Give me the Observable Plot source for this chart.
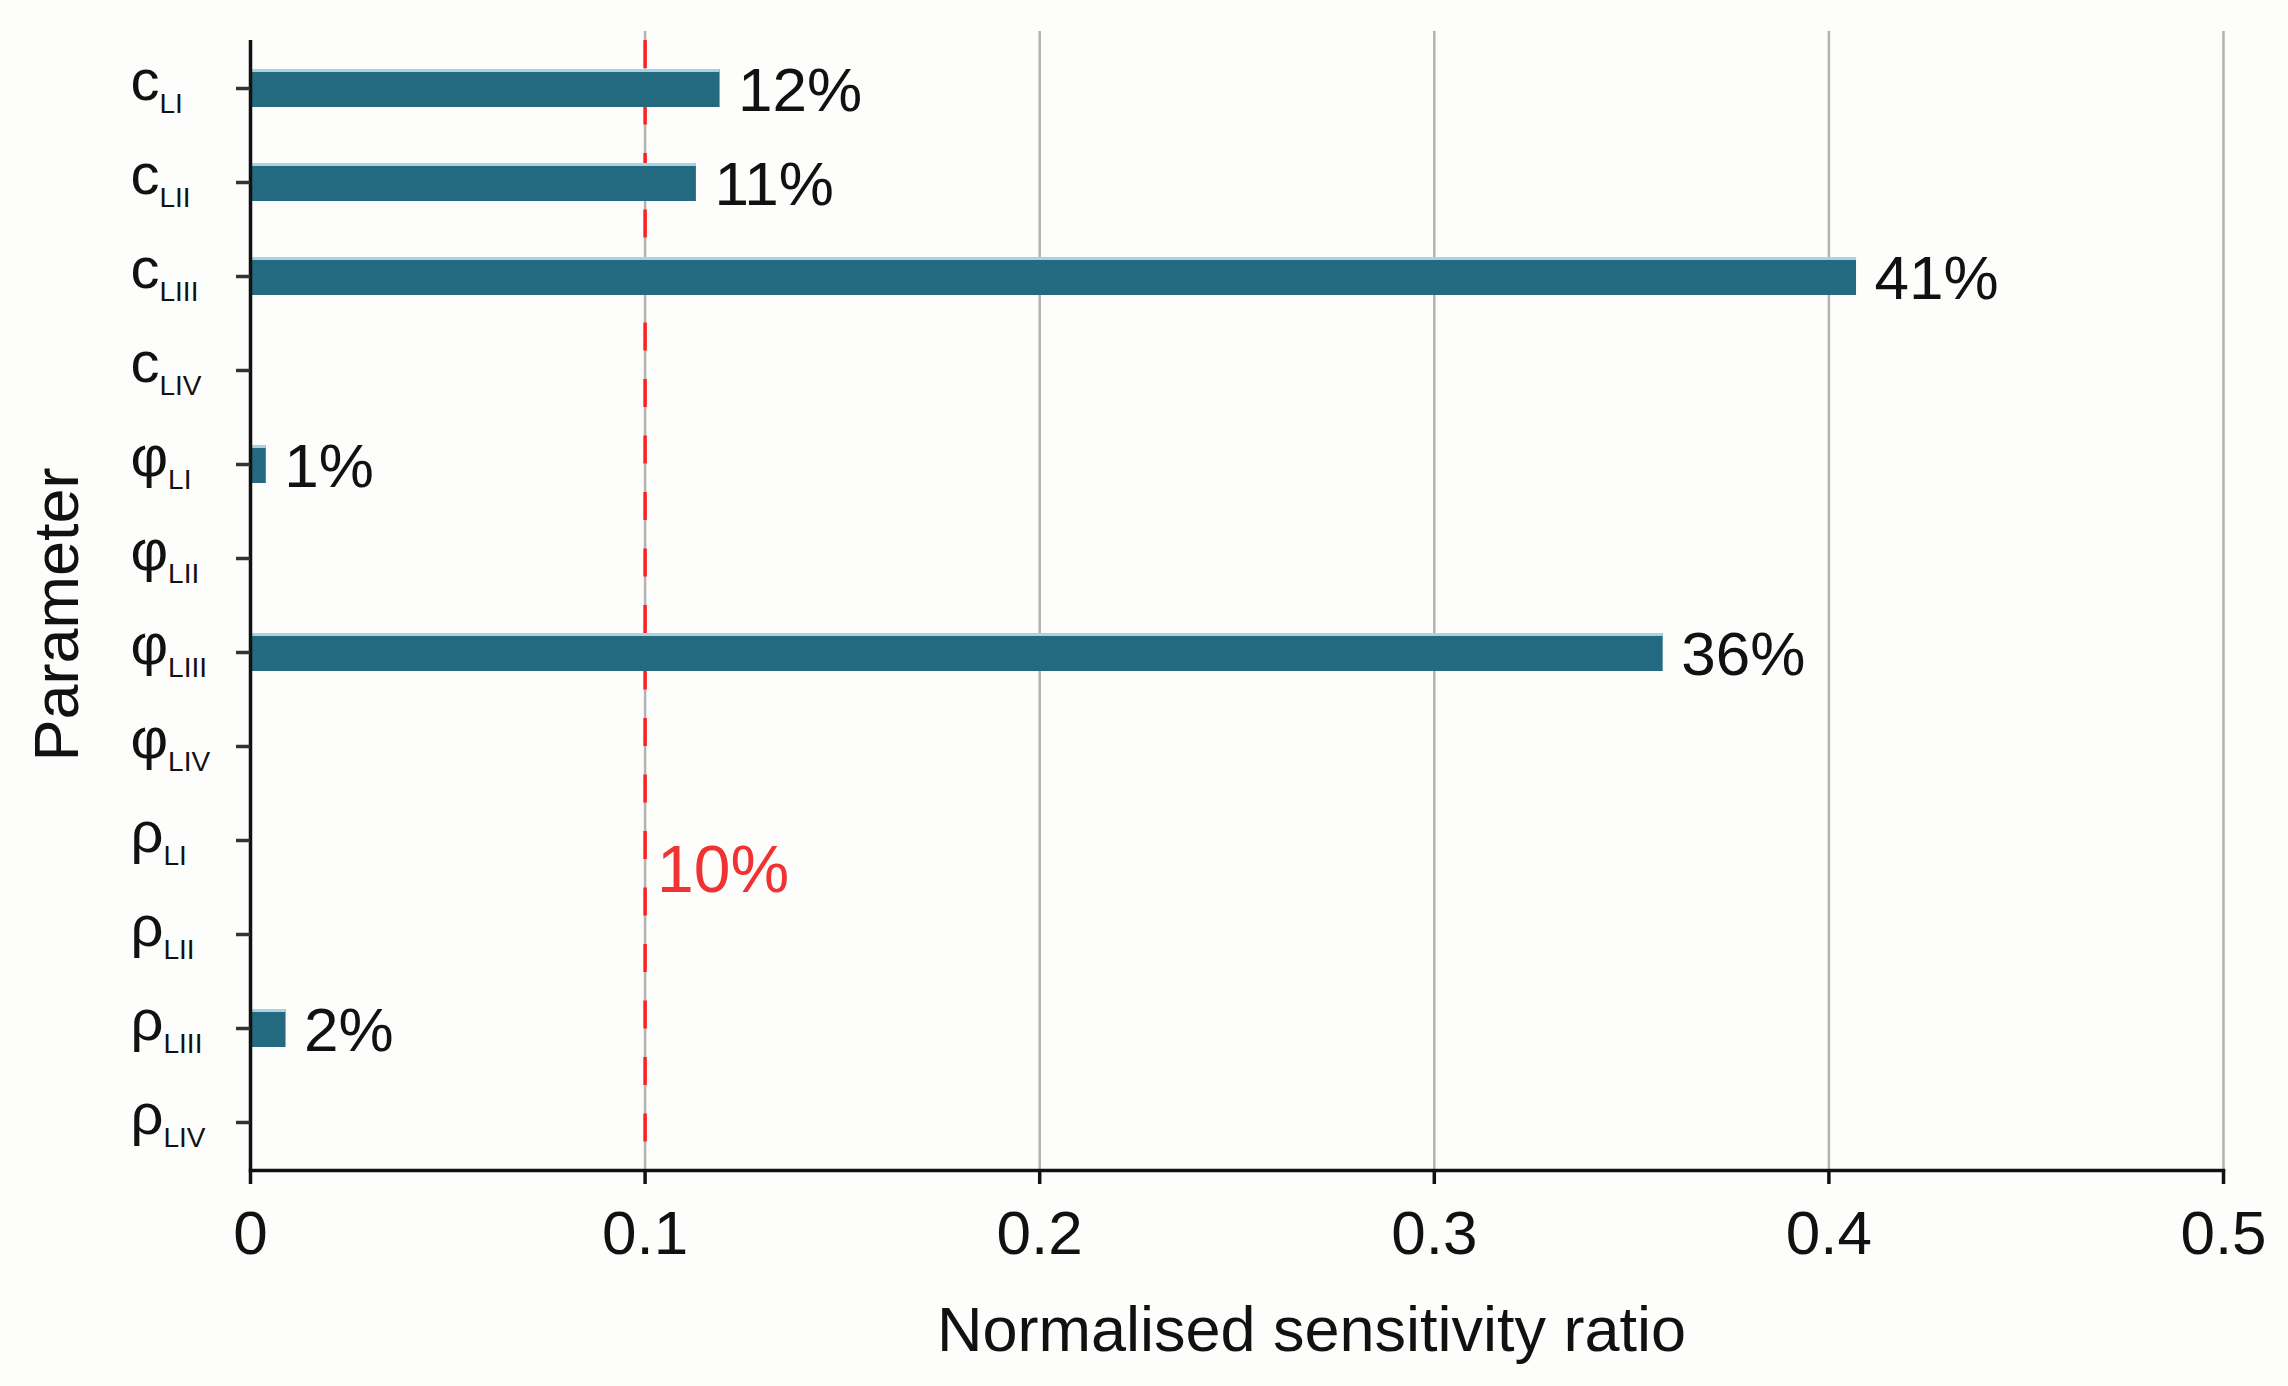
<!DOCTYPE html>
<html><head><meta charset="utf-8">
<script src="https://cdn.jsdelivr.net/npm/d3@7"></script>
<script src="https://cdn.jsdelivr.net/npm/@observablehq/plot@0.6"></script>
<style>html,body{margin:0;padding:0;background:#fdfdfc;overflow:hidden}</style>
</head><body><div id="chart"></div>
<script>
// ---- data ----
const symbols = ["c", "c", "c", "c", "φ", "φ", "φ", "φ", "ρ", "ρ", "ρ", "ρ"];
const subscripts = ["LI", "LII", "LIII", "LIV", "LI", "LII", "LIII", "LIV", "LI", "LII", "LIII", "LIV"];
const values = [0.119, 0.113, 0.407, 0, 0.004, 0, 0.358, 0, 0, 0, 0.009, 0];
const labels = ["12%", "11%", "41%", "", "1%", "", "36%", "", "", "", "2%", ""];
const xTicks = [0, 0.1, 0.2, 0.3, 0.4, 0.5];
const threshold = 0.1;
const thresholdLabel = "10%";
const thresholdLabelParam = "ρLI";
const xLabel = "Normalised sensitivity ratio";
const yLabel = "Parameter";

const params = symbols.map((s, i) => s + subscripts[i]);
const data = params.map((p, i) => ({param: p, value: values[i], label: labels[i]}));
const font = '"Liberation Sans", Arial, Helvetica, sans-serif';

const plot = Plot.plot({
  width: 2288, height: 1386,
  marginLeft: 250, marginRight: 65, marginTop: 31, marginBottom: 216,
  style: {background: "#fdfdfc", fontFamily: font, fontSize: "62px", color: "#111"},
  x: {domain: [0, 0.5]},
  y: {domain: params, paddingInner: 0.6, paddingOuter: 0.3, insetTop: 8},
  marks: [
    Plot.ruleX(xTicks.slice(1), {stroke: "#b2b2b2", strokeWidth: 2.5}),
    Plot.ruleX([threshold], {stroke: "#ff2020", strokeWidth: 3.5, strokeDasharray: "28,28.5", insetTop: 9}),
    Plot.barX(data.filter(d => d.value > 0), {x: "value", y: "param", fill: "#236a80"}),
    Plot.barX(data.filter(d => d.value > 0), {x: "value", y: "param", fill: "#a9d3e3", insetBottom: 35}),
    Plot.ruleX([0], {stroke: "#111", strokeWidth: 3.5, insetTop: 9}),
    Plot.frame({anchor: "bottom", stroke: "#111", strokeWidth: 3.5}),
    Plot.axisX({ticks: xTicks, tickSize: 14, tickPadding: 25, stroke: "#111", strokeWidth: 3.5, label: null, tickFormat: d => String(d), fill: "#111"}),
    Plot.axisY({tickSize: 14, stroke: "#333", strokeWidth: 3.5, tickFormat: () => "", label: null}),
    Plot.text(data, {y: "param", text: "param", frameAnchor: "left", dx: -120, dy: -7.5, textAnchor: "start", fontSize: 58, fill: "#111"}),
    Plot.text(data.filter(d => d.label), {x: "value", y: "param", text: "label", dx: 18, dy: 3, textAnchor: "start", fontSize: 62, fill: "#111"}),
    Plot.text([{x: threshold, y: thresholdLabelParam, t: thresholdLabel}], {x: "x", y: "y", text: "t", dx: 12, dy: 30, textAnchor: "start", fontSize: 66, fill: "#f03232"}),
    Plot.text([xLabel], {frameAnchor: "bottom", lineAnchor: "middle", dx: 74.5, dy: 160, fontSize: 63, fill: "#111"}),
    Plot.text([yLabel], {frameAnchor: "left", textAnchor: "middle", rotate: -90, dx: -193, dy: 13.5, fontSize: 63, fill: "#111"})
  ]
});

// subscripts on parameter labels
d3.select(plot).selectAll("text")
  .filter(function() { return params.includes(this.textContent); })
  .each(function() {
    const i = params.indexOf(this.textContent);
    const el = d3.select(this);
    el.text(null);
    el.append("tspan").text(symbols[i]);
    el.append("tspan").attr("font-size", 28).attr("dy", 13).text(subscripts[i]);
  });

document.getElementById("chart").appendChild(plot);
</script>
</body></html>
